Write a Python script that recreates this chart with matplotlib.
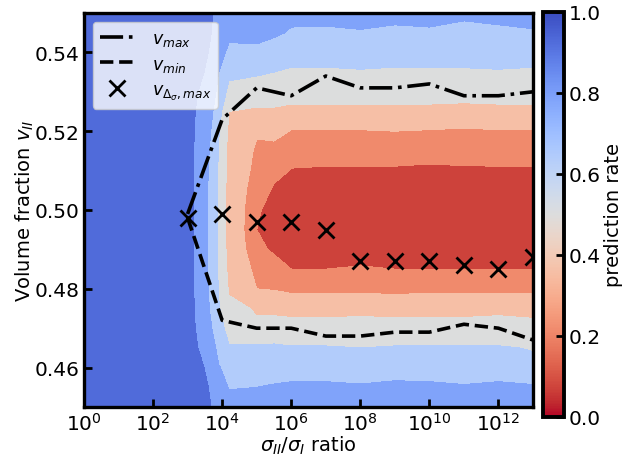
import numpy as np
import matplotlib
matplotlib.use("Agg")
import matplotlib.pyplot as plt
import matplotlib.ticker as ticker
from matplotlib.colors import Normalize
from matplotlib.cm import ScalarMappable

# grid of the contour map: log10(sigma_II/sigma_I) columns, volume fraction rows
log_ratio = [0, 3.0, 3.3, 3.6, 3.9, 4.2, 5.0, 5.5, 6, 7, 8, 9, 10, 11, 12, 13]
v_frac = [0.450, 0.455, 0.460, 0.465, 0.470, 0.475, 0.480, 0.485, 0.490, 0.495, 0.500,
          0.505, 0.510, 0.515, 0.520, 0.525, 0.530, 0.535, 0.540, 0.545, 0.550]

# prediction rate, one list per column (bottom -> top)
rate_cols = [
    [0.96] * 21,
    [0.94] * 21,
    [0.93, 0.93, 0.92, 0.90, 0.88, 0.87, 0.86, 0.86, 0.86, 0.86, 0.86,
     0.86, 0.86, 0.86, 0.87, 0.88, 0.90, 0.92, 0.93, 0.93, 0.93],
    [0.91, 0.90, 0.88, 0.84, 0.79, 0.76, 0.75, 0.74, 0.74, 0.74, 0.74,
     0.74, 0.75, 0.76, 0.78, 0.81, 0.85, 0.88, 0.90, 0.92, 0.92],
    [0.86, 0.82, 0.76, 0.70, 0.64, 0.61, 0.59, 0.58, 0.57, 0.57, 0.57,
     0.58, 0.58, 0.59, 0.61, 0.64, 0.70, 0.75, 0.79, 0.83, 0.86],
    [0.82, 0.74, 0.68, 0.61, 0.55, 0.49, 0.43, 0.40, 0.38, 0.37, 0.37,
     0.37, 0.38, 0.39, 0.41, 0.45, 0.55, 0.64, 0.72, 0.78, 0.83],
    [0.80, 0.75, 0.69, 0.62, 0.50, 0.42, 0.30, 0.24, 0.17, 0.15, 0.16,
     0.20, 0.24, 0.27, 0.32, 0.43, 0.52, 0.62, 0.72, 0.79, 0.83],
    [0.80, 0.76, 0.70, 0.62, 0.52, 0.41, 0.29, 0.21, 0.13, 0.09, 0.10,
     0.13, 0.19, 0.26, 0.34, 0.43, 0.52, 0.60, 0.69, 0.77, 0.82],
    [0.80, 0.77, 0.70, 0.61, 0.51, 0.40, 0.27, 0.15, 0.10, 0.07, 0.06,
     0.08, 0.14, 0.22, 0.29, 0.42, 0.50, 0.58, 0.66, 0.73, 0.80],
    [0.79, 0.77, 0.70, 0.61, 0.51, 0.40, 0.27, 0.15, 0.10, 0.07, 0.06,
     0.08, 0.13, 0.22, 0.29, 0.42, 0.50, 0.58, 0.66, 0.73, 0.79],
    [0.80, 0.76, 0.70, 0.60, 0.52, 0.40, 0.27, 0.16, 0.10, 0.07, 0.06,
     0.08, 0.13, 0.22, 0.29, 0.42, 0.51, 0.59, 0.66, 0.74, 0.80],
    [0.80, 0.77, 0.71, 0.61, 0.51, 0.40, 0.26, 0.15, 0.10, 0.07, 0.06,
     0.08, 0.13, 0.22, 0.30, 0.42, 0.50, 0.58, 0.66, 0.73, 0.78],
    [0.78, 0.77, 0.70, 0.61, 0.51, 0.40, 0.27, 0.15, 0.10, 0.07, 0.06,
     0.07, 0.12, 0.21, 0.29, 0.42, 0.50, 0.58, 0.66, 0.73, 0.80],
    [0.80, 0.76, 0.69, 0.61, 0.51, 0.40, 0.27, 0.15, 0.10, 0.07, 0.06,
     0.08, 0.13, 0.21, 0.28, 0.41, 0.50, 0.58, 0.67, 0.72, 0.77],
    [0.79, 0.77, 0.70, 0.61, 0.52, 0.41, 0.27, 0.15, 0.10, 0.07, 0.06,
     0.08, 0.13, 0.22, 0.29, 0.42, 0.50, 0.59, 0.66, 0.73, 0.78],
    [0.78, 0.76, 0.69, 0.58, 0.50, 0.40, 0.27, 0.15, 0.10, 0.07, 0.06,
     0.08, 0.13, 0.22, 0.29, 0.42, 0.50, 0.58, 0.66, 0.74, 0.79],
]

# curves sampled at 10^3 ... 10^13
ratio_pts = [1e3, 1e4, 1e5, 1e6, 1e7, 1e8, 1e9, 1e10, 1e11, 1e12, 1e13]
v_max = [0.499, 0.523, 0.531, 0.529, 0.534, 0.531, 0.531, 0.532, 0.529, 0.529, 0.530]
v_min = [0.498, 0.472, 0.470, 0.470, 0.468, 0.468, 0.469, 0.469, 0.471, 0.470, 0.467]
v_peak = [0.498, 0.499, 0.497, 0.497, 0.495, 0.487, 0.487, 0.487, 0.486, 0.485, 0.488]

levels = [0, 0.15, 0.3, 0.45, 0.6, 0.75, 0.9, 1.05]

X, Y = np.meshgrid(10.0 ** np.array(log_ratio), v_frac)
Z = np.array(rate_cols).T

fig = plt.figure(figsize=(6.27, 4.56), dpi=100)
ax = fig.add_axes([84 / 627, 48 / 456, 449 / 627, 394 / 456])
cax = fig.add_axes([543 / 627, 38 / 456, 21 / 627, 405 / 456])

ax.contourf(X, Y, Z, levels=levels, cmap="coolwarm_r")
ax.plot(ratio_pts, v_max, "k-.", lw=2.6, label=r"$v_{max}$")
ax.plot(ratio_pts, v_min, "k--", lw=2.6, label=r"$v_{min}$")
ax.plot(ratio_pts, v_peak, "kx", ms=12, mew=2, ls="none",
        label=r"$v_{\Delta_\sigma,max}$")

ax.set_xscale("log")
ax.set_xlim(1, 1e13)
ax.set_ylim(0.45, 0.55)
ax.xaxis.set_major_locator(ticker.LogLocator(base=100.0, numticks=10))
ax.xaxis.set_minor_locator(ticker.NullLocator())
ax.set_yticks([0.46, 0.48, 0.50, 0.52, 0.54])
ax.tick_params(direction="in", length=6, width=2, labelsize=14.5)
for s in ax.spines.values():
    s.set_linewidth(2.4)
ax.set_xlabel(r"$\sigma_{II}/\sigma_{I}$ ratio", fontsize=14, labelpad=0)
ax.set_ylabel(r"Volume fraction $v_{II}$", fontsize=14, labelpad=-1)

leg = ax.legend(loc="upper left", fontsize=12.5, handlelength=2.0,
                labelspacing=0.4, handletextpad=1.0)
leg.get_frame().set_edgecolor("#cccccc")

sm = ScalarMappable(norm=Normalize(0, 1), cmap="coolwarm_r")
cb = fig.colorbar(sm, cax=cax)
cb.set_ticks([0, 0.2, 0.4, 0.6, 0.8, 1.0])
cb.ax.tick_params(direction="in", length=6, width=2, labelsize=14.5)
cb.outline.set_linewidth(2.8)
cb.set_label("prediction rate", fontsize=14, labelpad=2)

fig.savefig("out.png", dpi=100)
